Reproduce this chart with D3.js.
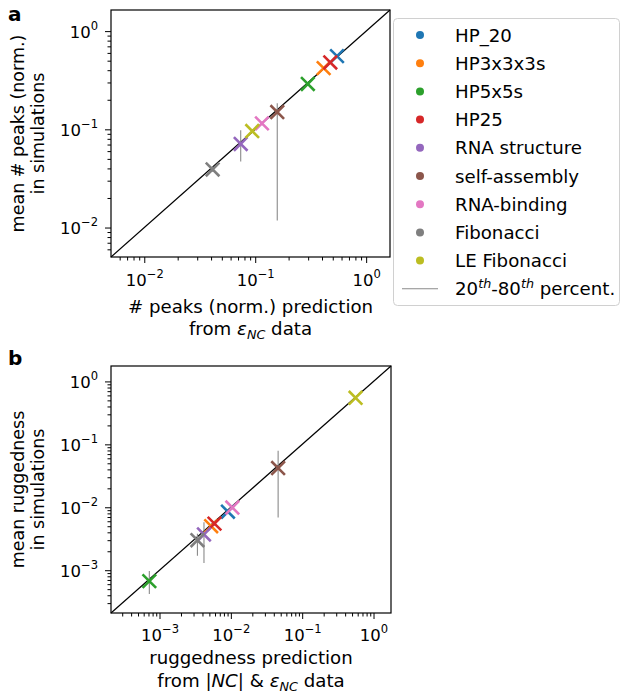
<!DOCTYPE html>
<html>
<head>
<meta charset="utf-8">
<script src="https://cdn.jsdelivr.net/npm/d3@7"></script>
<style>
  body { margin: 0; background: #fff; }
  svg { font-family: "DejaVu Sans", sans-serif; }
</style>
</head>
<body>
<div class="chart"></div>
<script>
const categories = ['HP_20', 'HP3x3x3s', 'HP5x5s', 'HP25', 'RNA structure', 'self-assembly', 'RNA-binding', 'Fibonacci', 'LE Fibonacci'];
const colors = ['#1f77b4', '#ff7f0e', '#2ca02c', '#d62728', '#9467bd', '#8c564b', '#e377c2', '#7f7f7f', '#bcbd22'];

// panel a: number of peaks (normalised)
const peaksPred = [0.546, 0.414, 0.298, 0.475, 0.074, 0.158, 0.115, 0.0413, 0.094];
const peaksSim = [0.556, 0.42, 0.29, 0.48, 0.071, 0.15, 0.115, 0.039, 0.096];
const peaksP20 = [0.54, 0.41, 0.285, 0.47, 0.047, 0.0118, 0.11, 0.037, 0.092];
const peaksP80 = [0.57, 0.43, 0.30, 0.49, 0.098, 0.184, 0.12, 0.042, 0.10];

// panel b: ruggedness
const ruggPred = [0.0091, 0.0053, 0.00072, 0.0059, 0.0042, 0.046, 0.0105, 0.0034, 0.56];
const ruggSim = [0.0085, 0.005, 0.00067, 0.0055, 0.0037, 0.042, 0.0099, 0.0030, 0.55];
const ruggP20 = [0.008, 0.0047, 0.00042, 0.0051, 0.0013, 0.0069, 0.0093, 0.0017, 0.53];
const ruggP80 = [0.0092, 0.0054, 0.00097, 0.006, 0.0058, 0.079, 0.0106, 0.0038, 0.57];

const peaksTicks = [-2, -1, 0];
const ruggTicks = [-3, -2, -1, 0];

const fs = 16.5;      // tick labels
const lfs = 18.2;     // axis labels, legend
const yfs = 17.5;     // rotated y labels

const svg = d3.select('.chart')
    .append('svg')
    .attr('width', 622)
    .attr('height', 698);

const supLabel = (sel, exp) => {
    sel.text(null);
    sel.append('tspan').text('10');
    sel.append('tspan')
        .attr('font-size', fs * 0.7)
        .attr('dy', -8)
        .text(exp < 0 ? '\u2212' + (-exp) : exp);
};

const panel = (opt) => {
    const { left, right, top, bottom, domain, xv, yv, lo, hi, ticks } = opt;
    const x = d3.scaleLog().domain(domain).range([left, right]);
    const y = d3.scaleLog().domain(domain).range([bottom, top]);
    const g = svg.append('g');

    const minor = x.ticks().filter(v => Math.abs(Math.log10(v) - Math.round(Math.log10(v))) > 1e-6);
    const major = ticks.map(e => Math.pow(10, e));

    // minor ticks
    g.append('g')
        .attr('transform', 'translate(0,' + bottom + ')')
        .call(d3.axisBottom(x).tickValues(minor).tickSize(3.5).tickFormat(''))
        .call(a => a.select('.domain').remove());
    g.append('g')
        .attr('transform', 'translate(' + left + ',0)')
        .call(d3.axisLeft(y).tickValues(minor).tickSize(3.5).tickFormat(''))
        .call(a => a.select('.domain').remove());

    // major ticks
    const xa = g.append('g')
        .attr('transform', 'translate(0,' + bottom + ')')
        .call(d3.axisBottom(x).tickValues(major).tickSize(6).tickPadding(0));
    xa.select('.domain').remove();
    xa.selectAll('text')
        .attr('font-size', fs)
        .attr('font-family', 'DejaVu Sans')
        .attr('fill', '#000')
        .attr('dy', null)
        .attr('y', opt.xTickY)
        .each(function (d) { supLabel(d3.select(this), Math.round(Math.log10(d))); });

    const ya = g.append('g')
        .attr('transform', 'translate(' + left + ',0)')
        .call(d3.axisLeft(y).tickValues(major).tickSize(6).tickPadding(0));
    ya.select('.domain').remove();
    ya.selectAll('text')
        .attr('font-size', fs)
        .attr('font-family', 'DejaVu Sans')
        .attr('fill', '#000')
        .attr('dy', null)
        .attr('x', -13)
        .attr('y', 6)
        .attr('text-anchor', 'end')
        .each(function (d) { supLabel(d3.select(this), Math.round(Math.log10(d))); });
    g.selectAll('.tick line').attr('stroke', '#000').attr('stroke-width', 1);

    // diagonal
    g.append('line')
        .attr('x1', x(domain[0])).attr('y1', y(domain[0]))
        .attr('x2', x(domain[1])).attr('y2', y(domain[1]))
        .attr('stroke', '#000')
        .attr('stroke-width', 1.2);

    // percentile bars
    g.selectAll('.ebar')
        .data(categories)
        .enter()
        .append('line')
        .attr('class', 'ebar')
        .attr('x1', (d, i) => x(xv[i]))
        .attr('x2', (d, i) => x(xv[i]))
        .attr('y1', (d, i) => y(lo[i]))
        .attr('y2', (d, i) => y(hi[i]))
        .attr('stroke', '#8a8a8a')
        .attr('stroke-width', 1.1);

    // x markers
    const s = 6.8;
    g.selectAll('.mk')
        .data(categories)
        .enter()
        .append('path')
        .attr('class', 'mk')
        .attr('d', (d, i) => {
            const cx = x(xv[i]), cy = y(yv[i]);
            return `M${cx - s},${cy - s}L${cx + s},${cy + s}M${cx - s},${cy + s}L${cx + s},${cy - s}`;
        })
        .attr('stroke', (d, i) => colors[i])
        .attr('stroke-width', 2.6)
        .attr('fill', 'none');

    // frame
    g.append('rect')
        .attr('x', left).attr('y', top)
        .attr('width', right - left).attr('height', bottom - top)
        .attr('fill', 'none')
        .attr('stroke', '#000')
        .attr('stroke-width', 1.2);

    // y label
    const yc = (top + bottom) / 2;
    opt.yLabel.forEach((t, k) => {
        svg.append('text')
            .attr('transform', `translate(${24 + k * 19.5},${yc}) rotate(-90)`)
            .attr('text-anchor', 'middle')
            .attr('font-size', yfs)
            .text(t);
    });

    return { x, y };
};

panel({
    left: 111, right: 390, top: 10, bottom: 257,
    domain: [Math.pow(10, -2.3), Math.pow(10, 0.215)],
    xv: peaksPred, yv: peaksSim, lo: peaksP20, hi: peaksP80,
    ticks: peaksTicks, xTickY: 29,
    yLabel: ['mean # peaks (norm.)', 'in simulations']
});

panel({
    left: 111, right: 391, top: 366, bottom: 613,
    domain: [Math.pow(10, -3.68), Math.pow(10, 0.245)],
    xv: ruggPred, yv: ruggSim, lo: ruggP20, hi: ruggP80,
    ticks: ruggTicks, xTickY: 28,
    yLabel: ['mean ruggedness', 'in simulations']
});

// x labels
const xlab = (cx, yb, parts) => {
    const t = svg.append('text')
        .attr('x', cx).attr('y', yb)
        .attr('text-anchor', 'middle')
        .attr('font-size', lfs);
    parts.forEach(p => {
        const ts = t.append('tspan').text(p.t);
        if (p.i) ts.attr('font-style', 'italic');
        if (p.sub) ts.attr('font-size', lfs * 0.7).attr('dy', 4);
        if (p.up) ts.attr('dy', -4);
    });
};

xlab(250.5, 313, [{ t: '# peaks (norm.) prediction' }]);
xlab(250.5, 335, [{ t: 'from ' }, { t: '\u03b5', i: true }, { t: 'NC', i: true, sub: true }, { t: ' data', up: true }]);
xlab(251, 664, [{ t: 'ruggedness prediction' }]);
xlab(251, 687, [{ t: 'from |' }, { t: 'NC', i: true }, { t: '| & ' }, { t: '\u03b5', i: true }, { t: 'NC', i: true, sub: true }, { t: ' data', up: true }]);

// panel letters
svg.append('text').attr('x', 8).attr('y', 21).attr('font-size', 20).attr('font-weight', 'bold').text('a');
svg.append('text').attr('x', 8).attr('y', 365).attr('font-size', 20).attr('font-weight', 'bold').text('b');

// legend
const leg = svg.append('g');
leg.append('rect')
    .attr('x', 393.5).attr('y', 18.5)
    .attr('width', 226).attr('height', 287)
    .attr('rx', 4)
    .attr('fill', '#fff')
    .attr('stroke', '#d0d0d0')
    .attr('stroke-width', 1);

const step = 28.2;
const ly = d3.scaleLinear().domain([0, 1]).range([35, 35 + step]);
categories.forEach((c, i) => {
    leg.append('circle')
        .attr('cx', 420).attr('cy', ly(i))
        .attr('r', 4)
        .attr('fill', colors[i]);
    leg.append('text')
        .attr('x', 455).attr('y', ly(i) + 6.5)
        .attr('font-size', lfs)
        .text(c);
});
const li = categories.length;
leg.append('line')
    .attr('x1', 402).attr('x2', 438)
    .attr('y1', ly(li)).attr('y2', ly(li))
    .attr('stroke', '#8a8a8a')
    .attr('stroke-width', 1.1);
const pt = leg.append('text')
    .attr('x', 455).attr('y', ly(li) + 6.5)
    .attr('font-size', lfs);
pt.append('tspan').text('20');
pt.append('tspan').attr('font-size', lfs * 0.7).attr('font-style', 'italic').attr('dy', -7).text('th');
pt.append('tspan').attr('dy', 7).text('-80');
pt.append('tspan').attr('font-size', lfs * 0.7).attr('font-style', 'italic').attr('dy', -7).text('th');
pt.append('tspan').attr('dy', 7).text(' percent.');
</script>
</body>
</html>
